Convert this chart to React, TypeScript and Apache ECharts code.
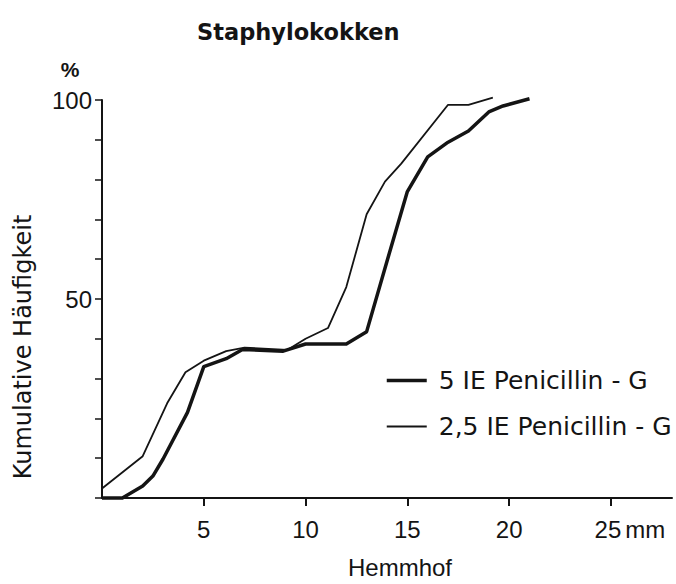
import React, { useEffect, useRef } from 'react';
import * as echarts from 'echarts';

const titleText = 'Staphylokokken';
const seriesNames = ['5 IE Penicillin - G', '2,5 IE Penicillin - G'];
const xAxisName = 'Hemmhof';
const yAxisName = 'Kumulative Häufigkeit';
const unitY = '%';
const unitX = 'mm';

// 5 IE Penicillin - G (thick line)
const x5 = [0, 1, 2, 2.5, 3, 4.2, 5, 6.1, 6.9, 8.9, 10, 12, 13, 14, 15, 16, 17, 18, 19, 19.7, 21];
const y5 = [0, 0, 3, 5.5, 9.8, 21.5, 33, 35, 37.3, 36.9, 38.7, 38.7, 41.8, 59.5, 77, 85.7, 89.4, 92.2, 97, 98.5, 100.3];

// 2,5 IE Penicillin - G (thin line)
const x25 = [0, 2, 3.2, 4.1, 5, 6.1, 7, 9.1, 10, 11.1, 12, 13, 13.9, 14.7, 17, 18, 19.2];
const y25 = [2.4, 10.5, 23.8, 31.6, 34.5, 36.9, 37.8, 37.2, 40, 42.7, 53, 71.3, 79.5, 84, 98.8, 98.8, 100.6];

const xTickValues = [5, 10, 15, 20, 25];
const yLabelValues = [50, 100];

const INK = '#141414';

export default function App() {
  const ref = useRef<HTMLDivElement>(null);

  useEffect(() => {
    document.body.style.margin = '0';
    if (!ref.current) return;
    const chart = echarts.init(ref.current, undefined, { renderer: 'svg' });
    const pair = (xs: number[], ys: number[]) => xs.map((x, i) => [x, ys[i]]);
    const lastTick = xTickValues[xTickValues.length - 1];

    chart.setOption({
      animation: false,
      backgroundColor: '#ffffff',
      title: {
        text: titleText,
        left: 192,
        top: 15,
        textStyle: { fontFamily: 'DejaVu Sans', fontWeight: 'bold', fontSize: 22.5, color: INK },
      },
      grid: { left: 102, top: 100, right: 4, bottom: 77 },
      legend: {
        orient: 'vertical',
        left: 385,
        top: 368,
        padding: 0,
        itemWidth: 40,
        itemHeight: 14,
        itemGap: 21,
        data: [
          { name: seriesNames[0], lineStyle: { width: 3.5 }, itemStyle: { opacity: 0 } },
          { name: seriesNames[1], lineStyle: { width: 1.8 }, itemStyle: { opacity: 0 } },
        ],
        textStyle: { fontFamily: 'DejaVu Sans', fontSize: 25, color: INK, padding: [0, 0, 0, 7] },
      },
      xAxis: {
        type: 'value',
        min: 0,
        max: 28,
        interval: 5,
        name: xAxisName,
        nameLocation: 'middle',
        nameGap: 57,
        nameTextStyle: { fontFamily: 'Liberation Sans', fontSize: 24, color: INK, padding: [0, 0, 0, 26] },
        splitLine: { show: false },
        axisLine: { show: true, lineStyle: { color: INK, width: 2 } },
        axisTick: { show: true, length: 8, lineStyle: { color: INK, width: 2 }, customValues: xTickValues },
        axisLabel: {
          customValues: xTickValues,
          margin: 19,
          fontFamily: 'Liberation Sans',
          fontSize: 24,
          color: INK,
          formatter: (v: number) => (v === lastTick ? `{sp|}{n|${v}}{u|${unitX}}` : String(v)),
          rich: {
            sp: { width: 38, fontSize: 24, fontFamily: 'Liberation Sans' },
            n: { fontSize: 24, fontFamily: 'Liberation Sans', color: INK },
            u: { fontSize: 24, fontFamily: 'Liberation Sans', color: INK, padding: [0, 0, 0, 4] },
          },
        },
      },
      yAxis: {
        type: 'value',
        min: 0,
        max: 100,
        interval: 10,
        splitLine: { show: false },
        axisLine: { show: true, lineStyle: { color: INK, width: 2 } },
        axisTick: { show: true, length: 7, lineStyle: { color: INK, width: 1.5 } },
        axisLabel: {
          margin: 10,
          fontFamily: 'Liberation Sans',
          fontSize: 24,
          color: INK,
          formatter: (v: number) => (yLabelValues.includes(v) ? String(v) : ''),
        },
      },
      graphic: [
        {
          type: 'text',
          x: 23,
          y: 347,
          rotation: Math.PI / 2,
          style: {
            text: yAxisName,
            fontFamily: 'DejaVu Sans',
            fontSize: 24,
            fill: INK,
            align: 'center',
            verticalAlign: 'middle',
          },
        },
        {
          type: 'text',
          x: 70,
          y: 69,
          style: {
            text: unitY,
            fontFamily: 'Liberation Sans',
            fontSize: 21,
            fontWeight: 'bold',
            fill: INK,
            align: 'center',
            verticalAlign: 'middle',
          },
        },
      ],
      series: [
        {
          name: seriesNames[0],
          type: 'line',
          data: pair(x5, y5),
          symbol: 'none',
          clip: false,
          lineStyle: { color: INK, width: 3.5, join: 'round' },
          itemStyle: { color: INK },
        },
        {
          name: seriesNames[1],
          type: 'line',
          data: pair(x25, y25),
          symbol: 'none',
          clip: false,
          lineStyle: { color: INK, width: 1.8, join: 'round' },
          itemStyle: { color: INK },
        },
      ],
    });

    return () => chart.dispose();
  }, []);

  return <div ref={ref} style={{ width: 676, height: 584 }} />;
}
